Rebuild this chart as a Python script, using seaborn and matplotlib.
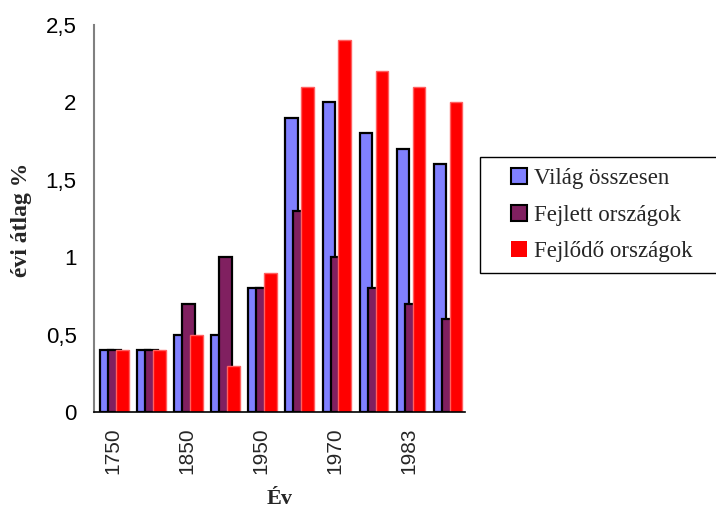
import matplotlib
matplotlib.use("Agg")
import matplotlib.pyplot as plt
import numpy as np
import seaborn as sns
from matplotlib.patches import Patch, Rectangle

# data
years = ["1750", "1800", "1850", "1900", "1950", "1960", "1970", "1980", "1983", "1990"]
vilag = [0.4, 0.4, 0.5, 0.5, 0.8, 1.9, 2.0, 1.8, 1.7, 1.6]
fejlett = [0.4, 0.4, 0.7, 1.0, 0.8, 1.3, 1.0, 0.8, 0.7, 0.6]
fejlodo = [0.4, 0.4, 0.5, 0.3, 0.9, 2.1, 2.4, 2.2, 2.1, 2.0]
series_names = ["Világ összesen", "Fejlett országok", "Fejlődő országok"]

sns.set_style("white")
plt.rcParams['font.family'] = ['Liberation Sans', 'DejaVu Sans']

colors = ["#8080ff", "#802060", "#ff0000"]
edges = ["#000000", "#000000", "#ff6060"]
offsets = [0.33, 0.545, 0.76]
width = 0.34

fig = plt.figure(figsize=(7.16, 5.09), dpi=100)
ax = fig.add_axes([94/716, 1-412/509, 371/716, 387/509])

pos = np.arange(len(years))
for k, vals in enumerate([vilag, fejlett, fejlodo]):
	sns.barplot(ax=ax, x=pos + offsets[k], y=vals, native_scale=True, width=width,
		color=colors[k], edgecolor=edges[k], linewidth=1.6 if k < 2 else 1.0,
		saturation=1, errorbar=None, zorder=2 + k)

ax.set_xlim(0, len(years))
ax.set_ylim(0, 2.5)

# tick marks at group boundaries, labels at every other group centre
ax.set_xticks(np.arange(len(years) + 1))
ax.set_xticklabels([])
ax.set_xticks(pos[::2] + 0.5, labels=years[::2], minor=True)
ax.tick_params(axis='x', which='major', direction='inout', length=9, width=1, colors='black')
ax.tick_params(axis='x', which='minor', length=0, pad=11, labelsize=15, labelrotation=90)

yt = np.arange(0, 2.51, 0.5)
ax.set_yticks(yt)
ax.set_yticklabels([("%g" % v).replace(".", ",") for v in yt])
ax.tick_params(axis='y', direction='inout', length=11, width=1, colors='black', labelsize=16, pad=7)

for s in ["top", "right"]:
	ax.spines[s].set_visible(False)
ax.spines["left"].set_color("#808080")
ax.spines["left"].set_linewidth(1.5)
ax.spines["bottom"].set_color("black")
ax.spines["bottom"].set_linewidth(1.2)
ax.spines["bottom"].set_zorder(6)

ax.set_xlabel("Év", family=['Liberation Serif'], fontweight='bold', fontsize=16, va='top')
ax.xaxis.set_label_coords(0.5, -0.2)
ax.set_ylabel("évi átlag %", family=['Liberation Serif'], fontweight='bold', fontsize=17, va='center')
ax.yaxis.set_label_coords(-0.195, 0.496)

# legend frame runs off the right edge like in the original
fig.patches.append(Rectangle((480/716, 1-273/509), 0.5, 116/509, transform=fig.transFigure,
	facecolor='white', edgecolor='black', linewidth=1, zorder=0))
handles = [Patch(facecolor=colors[k], edgecolor=edges[k] if k < 2 else colors[k], linewidth=1.5 if k < 2 else 0) for k in range(3)]
leg = fig.legend(handles, series_names, loc='upper left', bbox_to_anchor=(511/716, 1-168/509),
	prop={'family': 'Liberation Serif', 'size': 16.5}, frameon=False,
	handlelength=0.7, handleheight=0.7, handletextpad=0.3,
	labelspacing=0.68, borderpad=0, borderaxespad=0)

fig.savefig("out.png", dpi=100, facecolor='white')
